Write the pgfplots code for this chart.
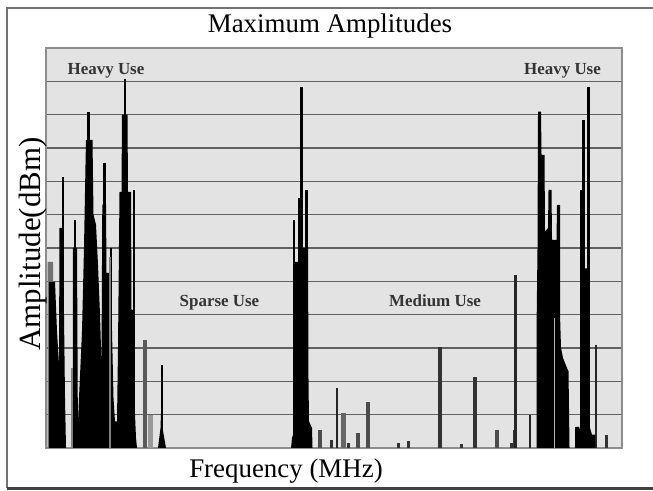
\documentclass[border=0pt]{standalone}
\usepackage{pgfplots}
\pgfplotsset{compat=1.18}
\usepackage{fontspec}
\setmainfont{Liberation Serif}
\begin{document}
\begin{tikzpicture}[x=1bp,y=1bp]
\useasboundingbox (0,0) rectangle (653,491);
% outer frame
\draw[black!55, line width=2bp] (7,3) -- (7,483) -- (653,483);
\draw[black!75, line width=3bp] (7,2.5) -- (653,2.5);
\begin{axis}[
  at={(46bp,43bp)}, anchor=south west,
  scale only axis, width=576bp, height=400bp,
  xmin=46, xmax=622, ymin=0, ymax=12,
  xtick=\empty, ytick={1,...,11}, yticklabels={},
  major tick length=0pt,
  ymajorgrids, grid style={black!62, line width=1.6bp},
  axis line style={black!45, line width=1.2bp},
  axis background/.style={fill=black!11},
]
% ---- left heavy-use cluster ----
\addplot[fill=black!55, draw=none] coordinates {(47.5,0)(47.5,5.58)(53,5.58)(53,0)} \closedcycle;
\addplot[fill=black, draw=none] coordinates {(49,0)(49,4.98)(55,4.98)(57,3.5)(59,2.5)(59.5,6.6)(63.5,6.6)(64,4)(65,1.5)(66,0)} \closedcycle;
\addplot[fill=black, draw=none] coordinates {(72.8,0)(72.8,6.0)(77,6.0)(77.5,3)(78,0)} \closedcycle;
\addplot[fill=black, draw=none] coordinates {(77,0)(79,1.5)(82,3.5)(84,6.0)(85.5,8.5)(86,9.24)(92.5,9.24)(93.5,7.0)(96,6.7)(98,5.5)(100,4.0)(101.5,2.5)(102.3,7.3)(106,7.3)(106.5,5.25)(111.5,5.25)(112,3.5)(113.5,1.5)(115,0.8)(117,0.8)(118,3.0)(119.5,7.68)(121.5,7.68)(122,10.0)(127.5,10.0)(128,7.68)(131,7.68)(131.5,4.14)(134,4.14)(135,1.0)(136,0.3)(137,0)} \closedcycle;
\addplot[ycomb, black, line width=2.5bp, mark=none] coordinates {(63,8.13)(75,6.84)(88.5,10.08)(104.5,8.55)(111,6.0)(125,11.07)(134,7.74)(162,2.49)};
\addplot[ycomb, black!50, line width=2bp, mark=none] coordinates {(72,2.4)(110,5.73)};
\addplot[ycomb, black!65, line width=4bp, mark=none] coordinates {(144.5,3.24)};
\addplot[ycomb, black!40, line width=5bp, mark=none] coordinates {(150,1.0)};
\addplot[fill=black, draw=none] coordinates {(158,0)(160.5,0.6)(161.5,1.5)(162.5,0.6)(166,0)} \closedcycle;
% ---- middle cluster ----
\addplot[fill=black, draw=none] coordinates {(291,0)(292,0.3)(294,0.5)(294.5,5.58)(299.5,5.58)(300,6.0)(308,6.0)(308.5,2.0)(309,0.8)(312,0.6)(312.5,0)} \closedcycle;
\addplot[ycomb, black, line width=2.5bp, mark=none] coordinates {(294,6.84)(299.5,7.5)(301.5,10.83)(306.5,7.74)};
% ---- small bars (sparse / medium use) ----
\addplot[ycomb, black!70, line width=4bp, mark=none] coordinates {(319.5,0.54)(358,0.45)(368,1.38)(497,0.54)};
\addplot[ycomb, black!60, line width=5bp, mark=none] coordinates {(343,1.05)};
\addplot[ycomb, black!80, line width=4bp, mark=none] coordinates {(440,3.03)(475,2.13)(514.5,0.55)};
\addplot[ycomb, black!80, line width=3bp, mark=none] coordinates {(331,0.24)(348.5,0.15)(398.5,0.15)(408,0.2)(461,0.12)(511,0.15)(593.5,0.4)(606,0.4)};
\addplot[ycomb, black!85, line width=2.2bp, mark=none] coordinates {(337,1.8)(515.5,5.19)(530,1.0)(596,3.1)};
% ---- right heavy-use cluster ----
\addplot[fill=black, draw=none] coordinates {(536.5,0)(536.5,3.5)(537.5,6.0)(538,10.09)(541,10.09)(541.5,8.79)(544.5,8.79)(545,6.49)(548,6.6)(548.5,7.74)(551.5,7.74)(552,6.24)(556.5,6.24)(557,7.29)(560,7.29)(560,4.0)(561,3.0)(563,2.7)(567,2.4)(568.5,2.3)(569.5,0)} \closedcycle;
\addplot[ycomb, black!30, line width=1bp, mark=none] coordinates {(554.5,3.9)};
\addplot[fill=black, draw=none] coordinates {(575,0)(575,0.63)(579,0.63)(580.5,0.5)(582,0.63)(583,5.39)(588,5.39)(588.5,1.0)(590,0.6)(592,0.4)(595,0.4)(595.5,0)} \closedcycle;
\addplot[ycomb, black, line width=2.5bp, mark=none] coordinates {(581.5,7.74)(583.5,9.84)(588.7,10.84)};
\end{axis}
% texts
\node[anchor=base, text=black] at (330,458) {\fontsize{27}{27}\selectfont Maximum Amplitudes};
\node[anchor=base, text=black] at (286,13) {\fontsize{27}{27}\selectfont Frequency (MHz)};
\node[anchor=base, rotate=90, text=black] at (40,247) {\fontsize{31}{31}\selectfont Amplitude(dBm)};
\node[anchor=base, text=black!80] at (106,416) {\fontsize{17}{17}\selectfont\bfseries Heavy Use};
\node[anchor=base, text=black!80] at (562.5,416) {\fontsize{17}{17}\selectfont\bfseries Heavy Use};
\node[anchor=base, text=black!80] at (219.5,184) {\fontsize{17}{17}\selectfont\bfseries Sparse Use};
\node[anchor=base, text=black!80] at (435,184) {\fontsize{17}{17}\selectfont\bfseries Medium Use};
\end{tikzpicture}
\end{document}
